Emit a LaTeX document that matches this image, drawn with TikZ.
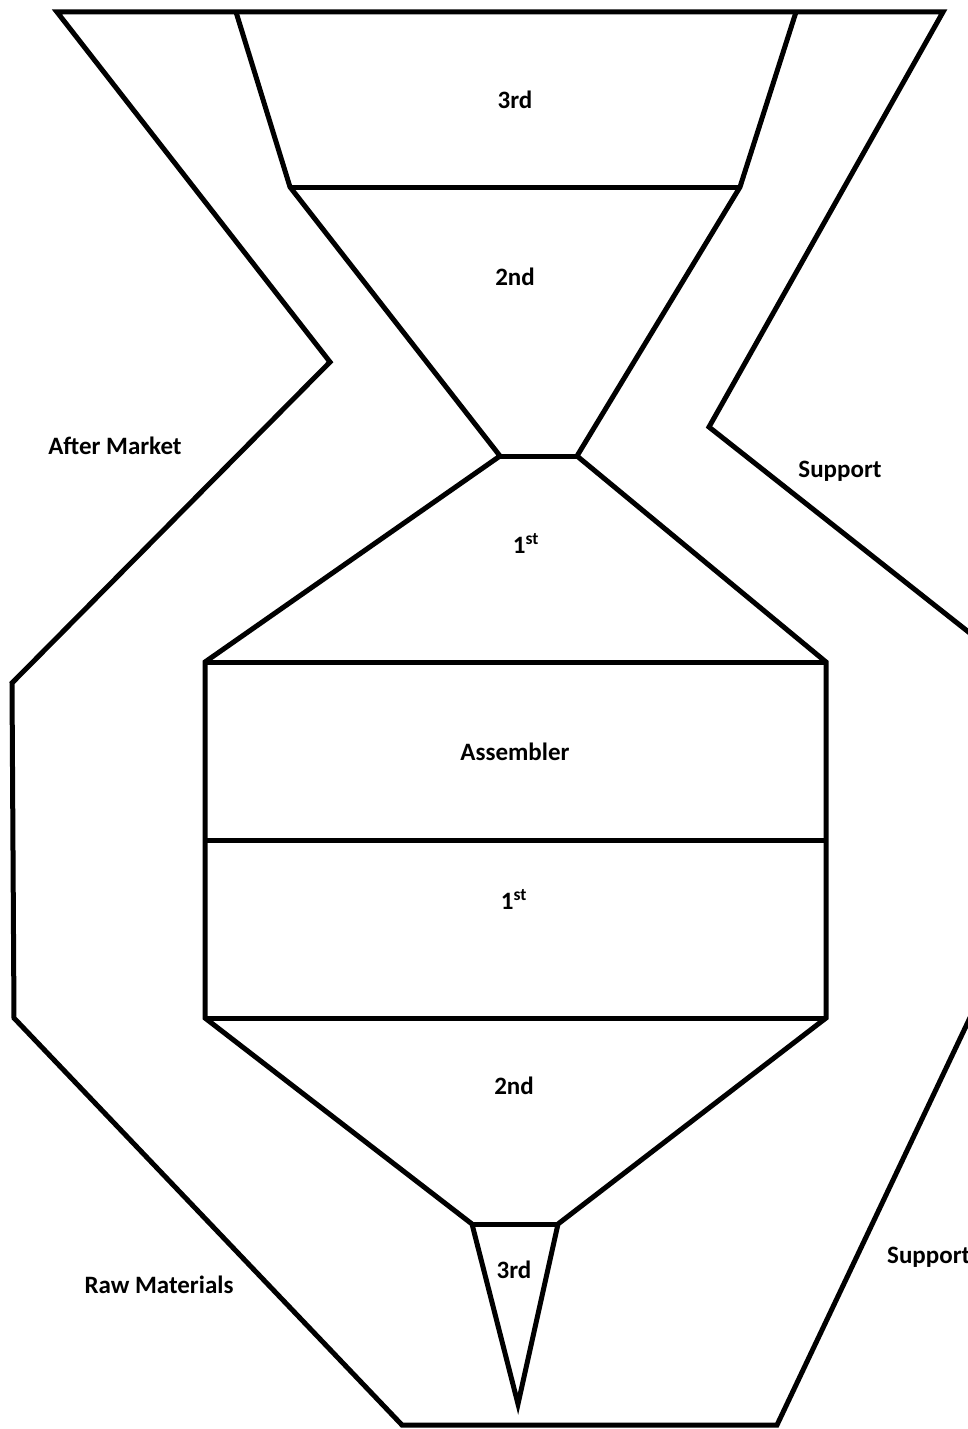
\documentclass[tikz,border=0pt]{standalone}
\usepackage{fontspec}
\setmainfont{Carlito}

\begin{document}
\begin{tikzpicture}[
  x=1pt, y=-1pt,
  edge/.style={line width=5pt},
  lbl/.style={font=\fontsize{25}{29}\selectfont\bfseries, inner sep=0pt}
]
\useasboundingbox (0,0) rectangle (968,1429);
\clip (0,0) rectangle (968,1429);

% outer band
\coordinate (otl) at (57,12);
\coordinate (ola) at (330,362);
\coordinate (olm) at (12,683);
\coordinate (olb) at (14,1018);
\coordinate (obl) at (402,1425);
\coordinate (obr) at (777,1425);
\coordinate (orb) at (985,986);
\coordinate (orm) at (985,645);
\coordinate (ora) at (709,427);
\coordinate (otr) at (943,12);
\draw[edge] (otl) -- (ola) -- (olm) -- (olb) -- (obl) -- (obr) -- (orb) -- (orm) -- (ora) -- (otr) -- cycle;

% inner funnel
\coordinate (itl) at (236,12);
\coordinate (itr) at (796,12);
\coordinate (u1l) at (290,187);
\coordinate (u1r) at (740,187);
\coordinate (u2l) at (500,456);
\coordinate (u2r) at (577,456);
\coordinate (rtl) at (205,662);
\coordinate (rtr) at (826,662);
\coordinate (rml) at (205,840);
\coordinate (rmr) at (826,840);
\coordinate (rbl) at (205,1018);
\coordinate (rbr) at (826,1018);
\coordinate (l2l) at (472,1224);
\coordinate (l2r) at (558,1224);
\coordinate (tip) at (518,1404);
\draw[edge] (itl) -- (u1l) -- (u2l) -- (rtl) -- (rbl) -- (l2l) -- (tip)
  -- (l2r) -- (rbr) -- (rtr) -- (u2r) -- (u1r) -- (itr);
\draw[edge] (u1l) -- (u1r);
\draw[edge] (u2l) -- (u2r);
\draw[edge] (rtl) -- (rtr);
\draw[edge] (rml) -- (rmr);
\draw[edge] (rbl) -- (rbr);
\draw[edge] (l2l) -- (l2r);

% labels
\node[lbl] (top3) at (515,100) {3rd};
\node[lbl] (top2) at (515,277) {2nd};
\node[lbl] (top1) at (526,543) {1\textsuperscript{st}};
\node[lbl] (asm) at (515,752) {Assembler};
\node[lbl] (low1) at (514,899) {1\textsuperscript{st}};
\node[lbl] (low2) at (514,1086) {2nd};
\node[lbl] (low3) at (514,1270) {3rd};
\node[lbl] (after) at (115,446) {After Market};
\node[lbl] (sup1) at (840,471) {Support};
\node[lbl] (raw) at (159,1285) {Raw Materials};
\node[lbl, anchor=west] (sup2) at (887,1257) {Support};
\end{tikzpicture}
\end{document}
